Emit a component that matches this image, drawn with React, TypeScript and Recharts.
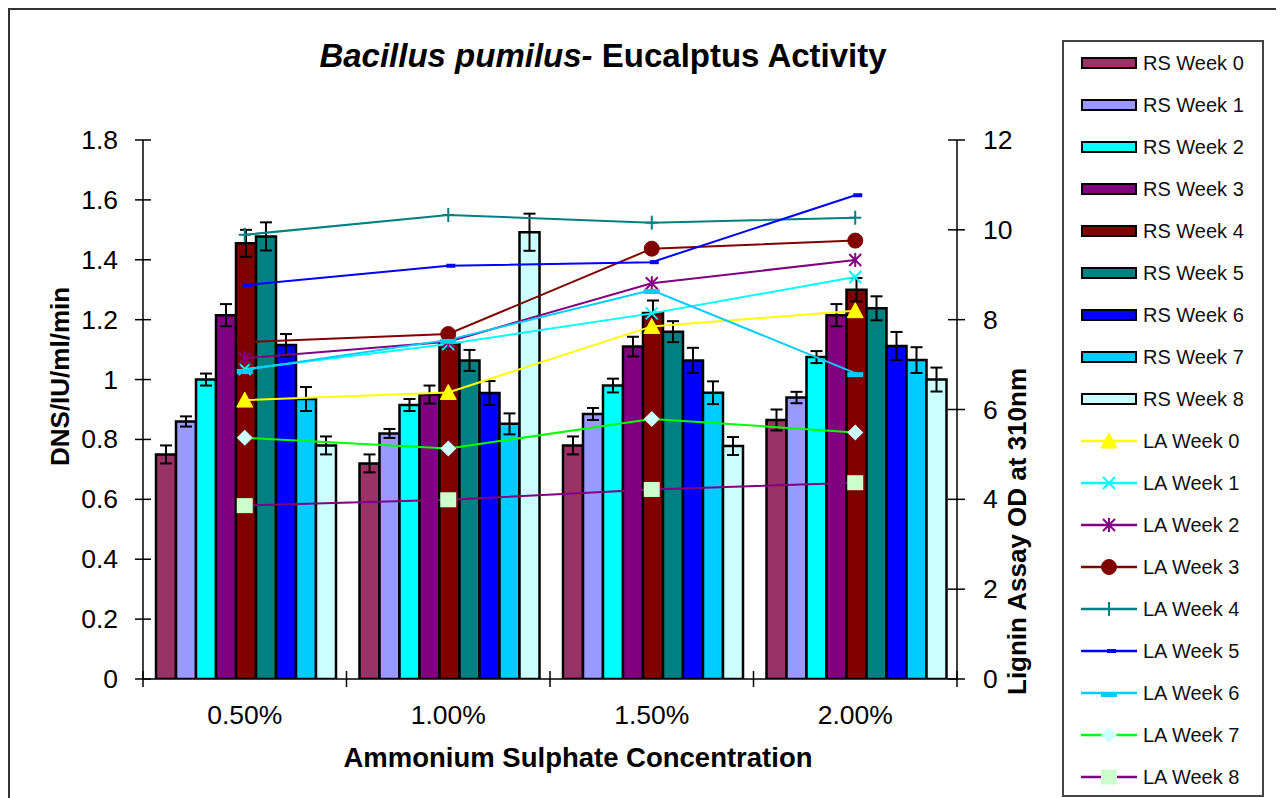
import React from 'react';
import { ComposedChart, Bar, Line, XAxis, YAxis, ErrorBar, Legend } from 'recharts';

// ---------------- data ----------------
const categories = ['0.50%', '1.00%', '1.50%', '2.00%'];

const rsWeek0 = [0.75, 0.72, 0.78, 0.865];
const rsWeek1 = [0.86, 0.82, 0.885, 0.94];
const rsWeek2 = [1.0, 0.915, 0.98, 1.075];
const rsWeek3 = [1.215, 0.95, 1.11, 1.215];
const rsWeek4 = [1.455, 1.12, 1.222, 1.3];
const rsWeek5 = [1.478, 1.064, 1.16, 1.238];
const rsWeek6 = [1.115, 0.955, 1.064, 1.112];
const rsWeek7 = [0.935, 0.852, 0.956, 1.065];
const rsWeek8 = [0.78, 1.492, 0.778, 1.0];

const rsErr0 = [0.03, 0.03, 0.03, 0.035];
const rsErr1 = [0.017, 0.015, 0.02, 0.019];
const rsErr2 = [0.02, 0.02, 0.023, 0.02];
const rsErr3 = [0.037, 0.03, 0.033, 0.037];
const rsErr4 = [0.045, 0.015, 0.042, 0.039];
const rsErr5 = [0.047, 0.035, 0.035, 0.04];
const rsErr6 = [0.037, 0.04, 0.042, 0.047];
const rsErr7 = [0.04, 0.035, 0.038, 0.043];
const rsErr8 = [0.03, 0.062, 0.03, 0.04];

const laWeek0 = [6.21, 6.38, 7.85, 8.2];
const laWeek1 = [6.9, 7.46, 8.14, 8.95];
const laWeek2 = [7.14, 7.51, 8.81, 9.33];
const laWeek3 = [7.5, 7.68, 9.58, 9.76];
const laWeek4 = [9.89, 10.33, 10.16, 10.27];
const laWeek5 = [8.77, 9.2, 9.28, 10.77];
const laWeek6 = [6.88, 7.55, 8.66, 6.81];
const laWeek7 = [5.37, 5.13, 5.79, 5.49];
const laWeek8 = [3.86, 3.99, 4.22, 4.37];

const leftTicks = [0, 0.2, 0.4, 0.6, 0.8, 1, 1.2, 1.4, 1.6, 1.8];
const rightTicks = [0, 2, 4, 6, 8, 10, 12];

const rsSeries = [rsWeek0, rsWeek1, rsWeek2, rsWeek3, rsWeek4, rsWeek5, rsWeek6, rsWeek7, rsWeek8];
const rsErrors = [rsErr0, rsErr1, rsErr2, rsErr3, rsErr4, rsErr5, rsErr6, rsErr7, rsErr8];
const laSeries = [laWeek0, laWeek1, laWeek2, laWeek3, laWeek4, laWeek5, laWeek6, laWeek7, laWeek8];

const rsNames = rsSeries.map((_, i) => `RS Week ${i}`);
const laNames = laSeries.map((_, i) => `LA Week ${i}`);

// ---------------- styles ----------------
const rsColors = ['#993366', '#9999FF', '#00FFFF', '#800080', '#800000', '#008080', '#0000FF', '#00CCFF', '#CCFFFF'];
const laColors = ['#FFFF00', '#00FFFF', '#800080', '#800000', '#008080', '#0000FF', '#00CCFF', '#00FF00', '#800080'];
const laMarkers = ['triangle', 'x', 'asterisk', 'circle', 'plus', 'dash', 'wideDash', 'diamond', 'square'];
const laMarkerFill = ['#FFFF00', '#00FFFF', '#800080', '#800000', '#008080', '#0000FF', '#00CCFF', '#CCFFFF', '#CCFFCC'];

const FONT = '"Liberation Sans", Arial, Helvetica, sans-serif';

const CHART_W = 1270;
const CHART_H = 790;
const MARGIN = { top: 130, right: 21, bottom: 61, left: 0 };
const LEFT_AXIS_W = 133;
const RIGHT_AXIS_W = 100;
const LEGEND_W = 202;
const X_AXIS_H = 60;
const PLOT_W = CHART_W - MARGIN.left - MARGIN.right - LEFT_AXIS_W - RIGHT_AXIS_W - LEGEND_W;
const BAND = PLOT_W / categories.length;

const data = categories.map((cat, ci) => {
  const row: any = { cat };
  rsSeries.forEach((s, i) => {
    row[`rs${i}`] = s[ci];
    row[`rsErr${i}`] = rsErrors[i][ci];
  });
  laSeries.forEach((s, i) => {
    row[`la${i}`] = s[ci];
  });
  return row;
});

// ---------------- markers ----------------
function drawMarker(kind: string, cx: number, cy: number, color: string, fill: string) {
  switch (kind) {
    case 'triangle':
      return <polygon points={`${cx},${cy - 8} ${cx - 8},${cy + 7} ${cx + 8},${cy + 7}`} fill={fill} stroke={fill} strokeWidth={1} />;
    case 'x':
      return (
        <g stroke={color} strokeWidth={2}>
          <line x1={cx - 6} y1={cy - 6} x2={cx + 6} y2={cy + 6} />
          <line x1={cx - 6} y1={cy + 6} x2={cx + 6} y2={cy - 6} />
        </g>
      );
    case 'asterisk':
      return (
        <g stroke={color} strokeWidth={2}>
          <line x1={cx - 6} y1={cy - 6} x2={cx + 6} y2={cy + 6} />
          <line x1={cx - 6} y1={cy + 6} x2={cx + 6} y2={cy - 6} />
          <line x1={cx} y1={cy - 7} x2={cx} y2={cy + 7} />
        </g>
      );
    case 'circle':
      return <circle cx={cx} cy={cy} r={7.5} fill={fill} stroke={color} strokeWidth={1} />;
    case 'plus':
      return (
        <g stroke={color} strokeWidth={2}>
          <line x1={cx} y1={cy - 7} x2={cx} y2={cy + 7} />
          <line x1={cx - 6} y1={cy} x2={cx + 6} y2={cy} />
        </g>
      );
    case 'dash':
      return <rect x={cx - 2} y={cy - 2} width={9} height={4} fill={fill} />;
    case 'wideDash':
      return <rect x={cx - 8} y={cy - 1} width={16} height={5} fill={fill} />;
    case 'diamond':
      return <polygon points={`${cx},${cy - 8} ${cx + 8},${cy} ${cx},${cy + 8} ${cx - 8},${cy}`} fill={fill} />;
    case 'square':
      return <rect x={cx - 8} y={cy - 7.5} width={16} height={15} fill={fill} />;
    default:
      return null;
  }
}

// ---------------- ticks ----------------
const renderXTick = (props: any) => {
  const { x, y, payload, index } = props;
  const half = BAND / 2;
  return (
    <g>
      <line x1={x - half} x2={x - half} y1={y - 8} y2={y + 8} stroke="#000" strokeWidth={1.5} />
      {index === categories.length - 1 && (
        <line x1={x + half} x2={x + half} y1={y - 8} y2={y + 8} stroke="#000" strokeWidth={1.5} />
      )}
      <text x={x} y={y + 36} textAnchor="middle" dominantBaseline="central" fontSize={26.5} fontFamily={FONT} fill="#000">
        {payload.value}
      </text>
    </g>
  );
};

const renderLeftTick = (props: any) => {
  const { x, y, payload } = props;
  return (
    <g>
      <line x1={x - 8} x2={x + 8} y1={y} y2={y} stroke="#000" strokeWidth={1.5} />
      <text x={x - 25} y={y} textAnchor="end" dominantBaseline="central" fontSize={26.5} fontFamily={FONT} fill="#000">
        {String(payload.value)}
      </text>
    </g>
  );
};

const renderRightTick = (props: any) => {
  const { x, y, payload } = props;
  return (
    <g>
      <line x1={x - 9} x2={x + 8} y1={y} y2={y} stroke="#000" strokeWidth={1.5} />
      <text x={x + 26} y={y} textAnchor="start" dominantBaseline="central" fontSize={26.5} fontFamily={FONT} fill="#000">
        {String(payload.value)}
      </text>
    </g>
  );
};

// ---------------- axis titles ----------------
const leftLabel = () => (
  <text
    x={50}
    y={456}
    transform="rotate(-90 50 456)"
    textAnchor="start"
    dominantBaseline="central"
    fontSize={26}
    fontWeight="bold"
    fontFamily={FONT}
    fill="#000"
  >
    DNS/IU/ml/min
  </text>
);

const rightLabel = () => (
  <text
    x={1007}
    y={685}
    transform="rotate(-90 1007 685)"
    textAnchor="start"
    dominantBaseline="central"
    fontSize={26}
    fontWeight="bold"
    fontFamily={FONT}
    fill="#000"
  >
    Lignin Assay OD at 310nm
  </text>
);

const xLabel = () => (
  <text x={568} y={747} textAnchor="middle" dominantBaseline="central" fontSize={27.5} fontWeight="bold" fontFamily={FONT} fill="#000">
    Ammonium Sulphate Concentration
  </text>
);

// ---------------- legend ----------------
const renderLegend = () => {
  const rows: any[] = [];
  rsNames.forEach((name, i) => {
    rows.push(
      <div key={name} style={{ height: 42, display: 'flex', alignItems: 'center' }}>
        <svg width={56} height={14} style={{ display: 'block' }}>
          <rect x={1} y={2} width={54} height={10} fill={rsColors[i]} stroke="#000" strokeWidth={2} />
        </svg>
        <span style={{ marginLeft: 6 }}>{name}</span>
      </div>
    );
  });
  laNames.forEach((name, i) => {
    rows.push(
      <div key={name} style={{ height: 42, display: 'flex', alignItems: 'center' }}>
        <svg width={56} height={18} style={{ display: 'block' }}>
          <line x1={0} x2={56} y1={9} y2={9} stroke={laColors[i]} strokeWidth={2.5} />
          {drawMarker(laMarkers[i], 28, 9, laColors[i], laMarkerFill[i])}
        </svg>
        <span style={{ marginLeft: 6 }}>{name}</span>
      </div>
    );
  });
  return (
    <div
      style={{
        width: LEGEND_W,
        height: 757,
        boxSizing: 'border-box',
        border: '2px solid #444',
        background: '#fff',
        paddingLeft: 17,
        fontFamily: FONT,
        fontSize: 20,
        color: '#111',
        lineHeight: 1,
      }}
    >
      {rows}
    </div>
  );
};

export default function App() {
  return (
    <div
      style={{
        position: 'relative',
        width: CHART_W,
        height: CHART_H,
        border: '2px solid #333',
        background: '#fff',
        fontFamily: FONT,
      }}
    >
      <div
        style={{
          position: 'absolute',
          left: 0,
          top: 27,
          width: 1186,
          textAlign: 'center',
          fontSize: 33,
          lineHeight: '38px',
          fontWeight: 'bold',
          color: '#000',
          zIndex: 2,
        }}
      >
        <span style={{ fontStyle: 'italic' }}>Bacillus pumilus-</span>
        <span> Eucalptus Activity</span>
      </div>
      <ComposedChart width={CHART_W} height={CHART_H} data={data} margin={MARGIN} barCategoryGap={13} barGap={0}>
        <XAxis
          dataKey="cat"
          height={X_AXIS_H}
          interval={0}
          tickSize={0}
          tickMargin={0}
          tickLine={false}
          tick={renderXTick}
          axisLine={{ stroke: '#000', strokeWidth: 1.5 }}
          label={{ content: xLabel }}
        />
        <YAxis
          yAxisId="left"
          width={LEFT_AXIS_W}
          domain={[0, 1.8]}
          allowDataOverflow
          ticks={leftTicks}
          interval={0}
          tickSize={0}
          tickMargin={0}
          tickLine={false}
          tick={renderLeftTick}
          axisLine={{ stroke: '#000', strokeWidth: 1.5 }}
          label={{ content: leftLabel }}
        />
        <YAxis
          yAxisId="right"
          orientation="right"
          width={RIGHT_AXIS_W}
          domain={[0, 12]}
          allowDataOverflow
          ticks={rightTicks}
          interval={0}
          tickSize={0}
          tickMargin={0}
          tickLine={false}
          tick={renderRightTick}
          axisLine={{ stroke: '#000', strokeWidth: 1.5 }}
          label={{ content: rightLabel }}
        />
        <Legend
          layout="vertical"
          align="right"
          verticalAlign="top"
          width={LEGEND_W}
          wrapperStyle={{ top: 30, right: 16, width: LEGEND_W }}
          content={renderLegend}
        />
        {rsNames.map((name, i) => (
          <Bar
            key={name}
            name={name}
            yAxisId="left"
            dataKey={`rs${i}`}
            fill={rsColors[i]}
            stroke="#000"
            strokeWidth={2.5}
            isAnimationActive={false}
          >
            <ErrorBar dataKey={`rsErr${i}`} width={6} stroke="#000" strokeWidth={2} direction="y" isAnimationActive={false} />
          </Bar>
        ))}
        {laNames.map((name, i) => (
          <Line
            key={name}
            name={name}
            yAxisId="right"
            type="linear"
            dataKey={`la${i}`}
            stroke={laColors[i]}
            strokeWidth={2}
            isAnimationActive={false}
            activeDot={false}
            dot={(p: any) => (
              <g key={`dot-${i}-${p.index}`}>{drawMarker(laMarkers[i], p.cx, p.cy, laColors[i], laMarkerFill[i])}</g>
            )}
          />
        ))}
      </ComposedChart>
    </div>
  );
}
